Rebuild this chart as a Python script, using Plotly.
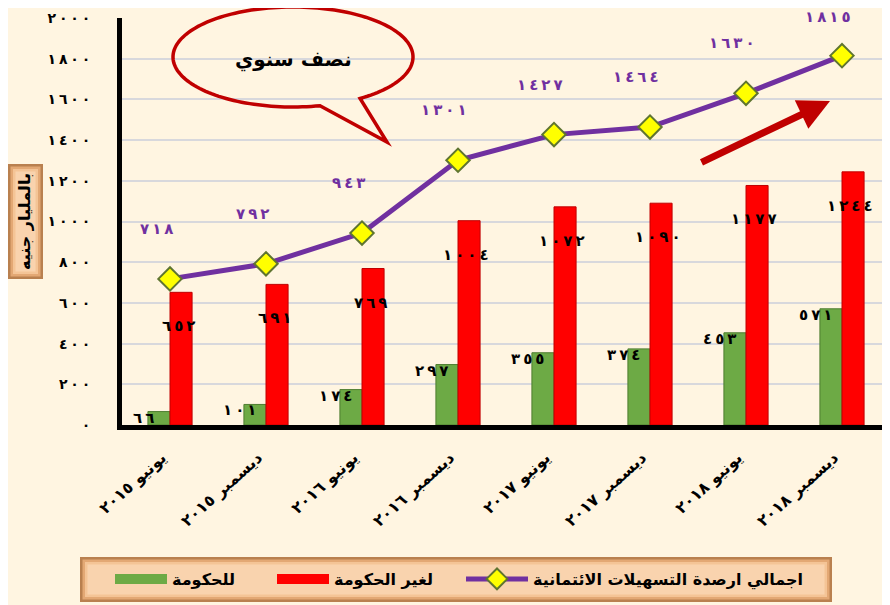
import numpy as np
import plotly.graph_objects as go

# ---------------- data ----------------
periods = ["يونيو ٢٠١٥", "ديسمبر ٢٠١٥", "يونيو ٢٠١٦", "ديسمبر ٢٠١٦",
           "يونيو ٢٠١٧", "ديسمبر ٢٠١٧", "يونيو ٢٠١٨", "ديسمبر ٢٠١٨"]
government = [66, 101, 174, 297, 355, 374, 453, 571]
non_government = [652, 691, 769, 1004, 1072, 1090, 1177, 1244]
total_facilities = [718, 792, 943, 1301, 1427, 1464, 1630, 1815]
y_tick_values = [0, 200, 400, 600, 800, 1000, 1200, 1400, 1600, 1800, 2000]

name_gov = "للحكومة"
name_nongov = "لغير الحكومة"
name_total = "اجمالي ارصدة التسهيلات الائتمانية"
axis_title = "بالمليار جنيه"
callout_text = "نصف سنوي"

AR_DIGITS = "٠١٢٣٤٥٦٧٨٩"


def ar(n, sep="\u200e\u2009"):
    return sep.join(AR_DIGITS[int(c)] for c in str(n))


# ---------------- geometry helpers ----------------
OFF = 8                      # page body margin
W, H = 882, 597
ML, MR, MT, MB = 114, 0, 10, 180
PW, PH = W - ML - MR, H - MT - MB
Y_MAX = 2000


def px(x):                   # screen x -> paper
    return (x - OFF - ML) / PW


def py(y):                   # screen y -> paper
    return ((H - MB) - (y - OFF)) / PH


def screen_y(v):
    return OFF + (H - MB) - v * PH / Y_MAX


FONT = "DejaVu Sans"
BG = "#FFF5E1"
GREEN = "#6DAA45"
RED = "#FF0000"
PURPLE = "#7030A0"

fig = go.Figure()

fig.add_trace(go.Bar(
    x=periods, y=government, name=name_gov, showlegend=False,
    marker=dict(color=GREEN, line=dict(color="#4E7D30", width=1)),
))
fig.add_trace(go.Bar(
    x=periods, y=non_government, name=name_nongov, showlegend=False,
    marker=dict(color=RED, line=dict(color="#C00000", width=1)),
))
fig.add_trace(go.Scatter(
    x=periods, y=total_facilities, name=name_total, mode="lines+markers",
    legend="legend3",
    line=dict(color=PURPLE, width=5),
    marker=dict(symbol="diamond", size=18, color="#FFFF00",
                line=dict(color="#5F7530", width=2)),
))
# legend keys for the bar series (wide rectangles like the original)
fig.add_trace(go.Scatter(x=[None], y=[None], mode="lines", name=name_gov, legend="legend",
                         line=dict(color=GREEN, width=14)))
fig.add_trace(go.Scatter(x=[None], y=[None], mode="lines", name=name_nongov, legend="legend2",
                         line=dict(color=RED, width=14)))

lab_font = dict(size=15, color="black", family=FONT, weight="bold")
annotations = []
for i, cat in enumerate(periods):
    annotations.append(dict(x=cat, y=government[i], text=ar(government[i]),
                            xshift=-27, yshift=-6, showarrow=False, font=lab_font))
    annotations.append(dict(x=cat, y=non_government[i], text=ar(non_government[i]),
                            xshift=8, yshift=-34, showarrow=False, font=lab_font))
    lift = min(50, screen_y(total_facilities[i]) - 17)
    annotations.append(dict(x=cat, y=total_facilities[i], text=ar(total_facilities[i]),
                            xshift=-14, yshift=lift, showarrow=False,
                            font=dict(size=15, color=PURPLE, family=FONT, weight="bold")))

# callout text
annotations.append(dict(xref="paper", yref="paper", x=px(293), y=py(60), text=callout_text,
                        xanchor="center", yanchor="middle", showarrow=False,
                        font=dict(size=20, color="black", family=FONT, weight="bold")))
# axis title
annotations.append(dict(xref="paper", yref="paper", x=px(25), y=py(222), text=axis_title,
                        xanchor="center", yanchor="middle", showarrow=False, textangle=-90,
                        font=dict(size=16, color="black", family=FONT, weight="bold")))
# trend arrow
annotations.append(dict(xref="paper", yref="paper", x=px(830), y=py(101), text="",
                        showarrow=True, ax=-130, ay=62, arrowhead=2, arrowsize=0.9,
                        arrowwidth=7, arrowcolor="#C00000", standoff=0))

# speech bubble path
cx, cy, rx, ry = 293, 57, 120, 50
th = np.radians(np.linspace(56, -283, 160))
pts = [(cx + rx * np.cos(t), cy + ry * np.sin(t)) for t in th]
pts.append((387, 142))
bubble = "M " + " L ".join(f"{px(x):.5f},{py(y):.5f}" for x, y in pts) + " Z"

shapes = [
    dict(type="path", xref="paper", yref="paper", path=bubble,
         line=dict(color="#C00000", width=3.5), fillcolor="rgba(0,0,0,0)", layer="above"),
]


def bevel_box(x0, y0, x1, y1):
    out = []
    cols = ["#B9804F", "#E3A874", "#F4C496", "#F9D3AE"]
    for k, c in enumerate(cols):
        d = k * 2.5
        out.append(dict(type="rect", xref="paper", yref="paper",
                        x0=px(x0 + d), x1=px(x1 - d), y0=py(y1 - d), y1=py(y0 + d),
                        line=dict(width=0), fillcolor=c, layer="above"))
    return out


shapes += bevel_box(80, 557, 832, 602)
shapes += bevel_box(8, 164, 43, 279)

leg_common = dict(orientation="h", xanchor="left", y=py(579), yanchor="middle",
                  bgcolor="rgba(0,0,0,0)", borderwidth=0,
                  font=dict(size=16, family=FONT, weight="bold", color="black"))

fig.update_layout(
    width=W, height=H,
    margin=dict(l=ML, r=MR, t=MT, b=MB, pad=0, autoexpand=False),
    paper_bgcolor=BG, plot_bgcolor=BG,
    barmode="group", bargap=0.54, bargroupgap=0,
    font=dict(family=FONT, color="black"),
    showlegend=True,
    legend=dict(x=px(110), itemwidth=52, **leg_common),
    legend2=dict(x=px(272), itemwidth=52, **leg_common),
    legend3=dict(x=px(461), itemwidth=62, **leg_common),
    annotations=annotations,
    shapes=shapes,
)

fig.update_xaxes(
    type="category", tickangle=-42, showgrid=False,
    showline=True, linecolor="black", linewidth=5,
    tickfont=dict(size=16, family=FONT, weight="bold", color="black"),
    ticks="", range=[-0.5, 7.5], automargin=False,
    ticklabelstandoff=12, ticklabelshift=-8,
)
fig.update_yaxes(
    range=[0, Y_MAX], tickvals=y_tick_values, ticktext=[ar(v) for v in y_tick_values],
    showgrid=True, gridcolor="#D8D8DC", gridwidth=2,
    showline=True, linecolor="black", linewidth=5, zeroline=False,
    tickfont=dict(size=14, family=FONT, weight="bold", color="black"),
    ticks="", ticklabelstandoff=24, automargin=False, ticklabeloverflow="allow",
)

fig.write_html("out.html")
